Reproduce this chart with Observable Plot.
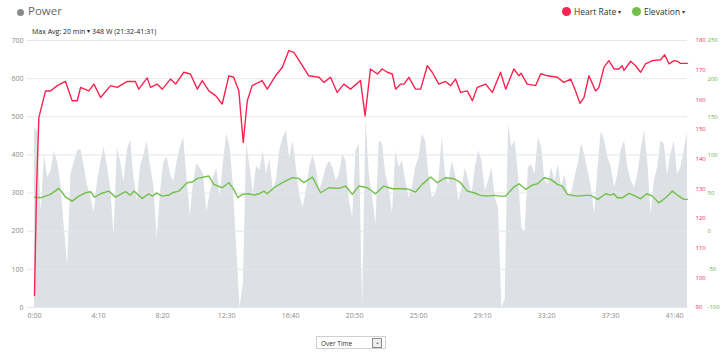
<!DOCTYPE html>
<html>
<head>
<meta charset="utf-8">
<script src="https://cdn.jsdelivr.net/npm/d3@7"></script>
<script src="https://cdn.jsdelivr.net/npm/@observablehq/plot@0.6"></script>
<style>
  body { margin: 0; background: #fff; font-family: "Open Sans", sans-serif; }
  #wrap { position: relative; width: 725px; height: 354px; overflow: hidden; }
  #chart { position: absolute; left: 0; top: 0; }
  .icon { position: absolute; left: 17px; top: 9px; width: 7px; height: 7px; border-radius: 50%; background: #8a8a8a; }
  .title { position: absolute; left: 28px; top: 3px; font-size: 11.5px; font-weight: 400; color: #666; }
  .maxavg { position: absolute; left: 32px; top: 27px; font-size: 7px; color: #222; white-space: nowrap; }
  .legend { position: absolute; top: 6px; font-size: 8.5px; color: #333; white-space: nowrap; }
  .legend .dot { display: inline-block; width: 9px; height: 9px; border-radius: 50%; vertical-align: -1px; margin-right: 3px; }
  .caret { font-size: 6px; vertical-align: 1px; }
  .select { position: absolute; left: 316px; top: 336px; width: 70px; height: 13px; border: 1px solid #cfcfcf; background: #fff; font-size: 6.5px; color: #333; box-sizing: border-box; }
  .select span { position: absolute; left: 4px; top: 1.5px; }
  .select .btn { position: absolute; right: 3px; top: 1px; width: 8px; height: 8px; border: 1px solid #888; font-size: 6px; line-height: 7px; text-align: center; color: #333; background: #eee; }
</style>
</head>
<body>
<div id="wrap">
  <div id="chart"></div>
  <div class="icon"></div>
  <div class="title">Power</div>
  <div class="maxavg">Max Avg: 20 min <span class="caret">▾</span> 348 W (21:32-41:31)</div>
  <div class="legend" style="left:562px"><span class="dot" style="background:#fa2250"></span>Heart Rate <span class="caret">▾</span></div>
  <div class="legend" style="left:632px"><span class="dot" style="background:#70c04a"></span>Elevation <span class="caret">▾</span></div>
  <div class="select"><span>Over Time</span><div class="btn">⌄</div></div>
</div>
<script>
// ---- data ----
const rideSeconds = 2550;
const xTickSeconds = [0, 250, 500, 750, 1000, 1250, 1500, 1750, 2000, 2250, 2500];
const powerTicks = [0, 100, 200, 300, 400, 500, 600, 700];
const hrTicks = [90, 100, 110, 120, 130, 140, 150, 160, 170, 180];
const elevTicks = [-100, -50, 0, 50, 100, 150, 200, 250];

// power samples (W), evenly spaced over the ride
const powerWatts = [
  470, 460, 250, 400, 340, 360, 410, 380, 320, 210, 110, 350, 380, 410, 415, 370, 320, 290, 250, 330,
  380, 420, 370, 310, 190, 420, 380, 330, 410, 440, 340, 280, 370, 400, 435, 370, 320, 180, 300, 380,
  395, 350, 330, 380, 420, 445, 340, 240, 330,
  376, 365, 350, 250, 300, 340, 365, 290, 380, 455, 420, 320, 156, 0, 60, 430, 370, 300, 370, 360,
  410, 350, 390, 310, 335, 411, 446, 464, 390, 437, 367, 297, 261, 305, 367, 400, 367, 305, 332, 367,
  384, 367, 332, 349, 402, 384, 279, 235, 411, 428,
  0, 495, 349, 288, 218, 437, 428, 349, 314, 244, 411, 367, 384, 332, 288, 314, 367, 393, 454, 437,
  349, 288, 297, 332, 446, 349, 323, 384, 349, 279, 314, 367, 332, 297, 367, 411, 384, 305, 332, 367,
  288, 261, 0, 20, 481, 420, 437, 349,
  209, 196, 367, 375, 349, 446, 420, 332, 323, 367, 332, 375, 314, 349, 297, 297, 340, 375, 430, 400,
  358, 314, 244, 367, 463, 437, 393, 367, 314, 349, 411, 437, 367, 332, 314, 349, 411, 463, 384, 244,
  332, 367, 437, 428, 349, 402, 437, 349, 367, 411, 460
];

const hrSeconds = [0, 8, 17, 43, 62, 89, 121, 147, 167, 180, 212, 232, 258, 297, 323, 362, 394, 407, 440, 453,
  479, 499, 531, 551, 583, 609, 636, 655, 681, 707, 733, 759, 778, 798, 815, 831, 850, 889, 909, 941,
  968, 993, 1013, 1046, 1071, 1111, 1130, 1156, 1182, 1208, 1234, 1273, 1291, 1312, 1339, 1358, 1378, 1397, 1410, 1430,
  1443, 1462, 1488, 1508, 1534, 1553, 1579, 1605, 1625, 1644, 1664, 1690, 1710, 1729, 1762, 1788, 1820, 1840, 1872, 1892,
  1900, 1924, 1957, 1977, 2003, 2042, 2067, 2094, 2113, 2130, 2146, 2165, 2191, 2204, 2224, 2243, 2263, 2282, 2295, 2302,
  2328, 2347, 2367, 2386, 2413, 2445, 2461, 2478, 2497, 2510, 2523, 2550];
const hrBpm = [94, 130, 154, 163, 163, 164.8, 166.2, 159.7, 159.7, 164.2, 163, 165.3, 160.8, 164.8, 164.2, 166.2, 166.2, 163.6, 167.4, 164.2,
  165.3, 163.6, 167, 165.3, 169.3, 168.7, 163.6, 166.5, 163, 161.4, 158.6, 168.1, 167.6, 163, 145.6, 159.7, 164.8, 166.5, 163.6, 168.1,
  171, 176.6, 176, 171.5, 168.1, 167.6, 165.9, 167.6, 162.5, 165.3, 163.6, 166.5, 154.6, 170.4, 168.7, 170.4, 169.3, 168.7, 163.6, 165.3,
  165.3, 167.6, 163.6, 163.6, 171.5, 169.3, 165.3, 166.2, 164.8, 167, 162.5, 163, 159.7, 164.2, 165.3, 162.5, 169.3, 163.6, 170.4, 168.1,
  169, 165.3, 164.8, 168.8, 168.1, 167.6, 165.9, 167, 163, 158.8, 160.8, 168.1, 163, 164.2, 171, 173.2, 170.4, 170.4, 171.5, 169.9,
  173, 171.5, 169.3, 172.1, 173.2, 173.5, 175.2, 172.1, 173.2, 173, 172.3, 172.3];

const elevSeconds = [0, 23, 62, 95, 109, 121, 147, 173, 199, 219, 234, 258, 290, 316, 355, 375, 388, 421, 446, 460,
  477, 499, 525, 538, 564, 596, 616, 636, 681, 700, 733, 759, 778, 794, 811, 837, 857, 876, 896, 909,
  935, 968, 1007, 1032, 1052, 1085, 1117, 1150, 1189, 1215, 1241, 1267, 1300, 1332, 1364, 1397, 1443, 1462, 1488, 1514,
  1547, 1573, 1605, 1638, 1664, 1690, 1716, 1742, 1768, 1794, 1820, 1840, 1872, 1892, 1918, 1944, 1964, 1990, 2016, 2042,
  2061, 2081, 2120, 2152, 2172, 2200, 2230, 2250, 2263, 2276, 2295, 2321, 2347, 2367, 2391, 2413, 2438, 2465, 2491, 2510,
  2536, 2550];
const elevValues = [44.7, 43.8, 48.3, 56.2, 50.4, 44.7, 39.5, 46, 50.4, 51.8, 44.7, 49.1, 52.6, 44.7, 51.8, 47.4, 52.6, 43, 49.1, 46,
  50, 46, 47.4, 50.4, 52.6, 63.6, 64.5, 69.3, 72.4, 61.4, 57, 63.6, 54.9, 43.8, 48.3, 49.1, 47.4, 49.1, 52.6, 49.1,
  57, 63.6, 70.1, 69.3, 63.6, 71, 50.4, 57, 56.2, 59.2, 48.3, 59.2, 57, 49.1, 59.2, 55.7, 55.7, 54.9, 51.3, 61.4,
  71, 63.6, 70.1, 68.8, 63.6, 52.6, 50.4, 47, 46, 47, 46, 46, 57.9, 62.2, 54.9, 60.5, 62.2, 70.1, 68, 61.4,
  59, 48.3, 46, 47, 47, 41.7, 49.1, 47.4, 49.1, 43.8, 43.8, 49.6, 46, 42.5, 49.1, 46, 37.2, 43.8, 52.6, 47.4,
  41.7, 41.7];

// ---- build tables ----
const powerData = powerWatts.map((w, i) => ({t: i * rideSeconds / (powerWatts.length - 1), w}));
const hrData = hrSeconds.map((t, i) => ({t, v: hrBpm[i]}));
const elevData = elevSeconds.map((t, i) => ({t, v: elevValues[i]}));

// secondary axes share the power y scale
const hrToY = d3.scaleLinear().domain([90, 180]).range([0, 700]);
const elToY = d3.scaleLinear().domain([-100, 250]).range([0, 700]);

const fmtTime = s => `${Math.floor(s / 60)}:${String(s % 60).padStart(2, "0")}`;

const chart = Plot.plot({
  width: 725,
  height: 354,
  marginTop: 40,
  marginBottom: 47,
  marginLeft: 34,
  marginRight: 38,
  x: {domain: [0, rideSeconds]},
  y: {domain: [0, 700]},
  style: {fontFamily: "Open Sans, sans-serif", fontSize: "7px", background: "transparent", overflow: "visible"},
  marks: [
    Plot.areaY(powerData, {x: "t", y: "w", fill: "#dde1e5"}),
    Plot.gridY(powerTicks, {stroke: "#e4e6e8", strokeOpacity: 1, insetLeft: -7}),
    Plot.line(elevData, {x: "t", y: d => elToY(d.v), stroke: "#70c04a", strokeWidth: 1.4}),
    Plot.line(hrData, {x: "t", y: d => hrToY(d.v), stroke: "#fa2250", strokeWidth: 1.4}),
    Plot.axisY(powerTicks, {anchor: "left", tickSize: 0, tickPadding: 11, fill: "#8a8a8a", label: null}),
    Plot.axisY(hrTicks.map(hrToY), {anchor: "right", tickSize: 0, tickPadding: 8, fill: "#f0305a", label: null,
      fontSize: 6, tickFormat: d => Math.round(hrToY.invert(d))}),
    Plot.axisY(elevTicks.map(elToY), {anchor: "right", tickSize: 0, tickPadding: 20, fill: "#6cb33f", label: null,
      fontSize: 6, tickFormat: d => Math.round(elToY.invert(d))}),
    Plot.axisX(xTickSeconds, {tickSize: 0, tickPadding: 6, fill: "#8a8a8a", label: null, tickFormat: fmtTime})
  ]
});
document.getElementById("chart").appendChild(chart);
</script>
</body>
</html>
